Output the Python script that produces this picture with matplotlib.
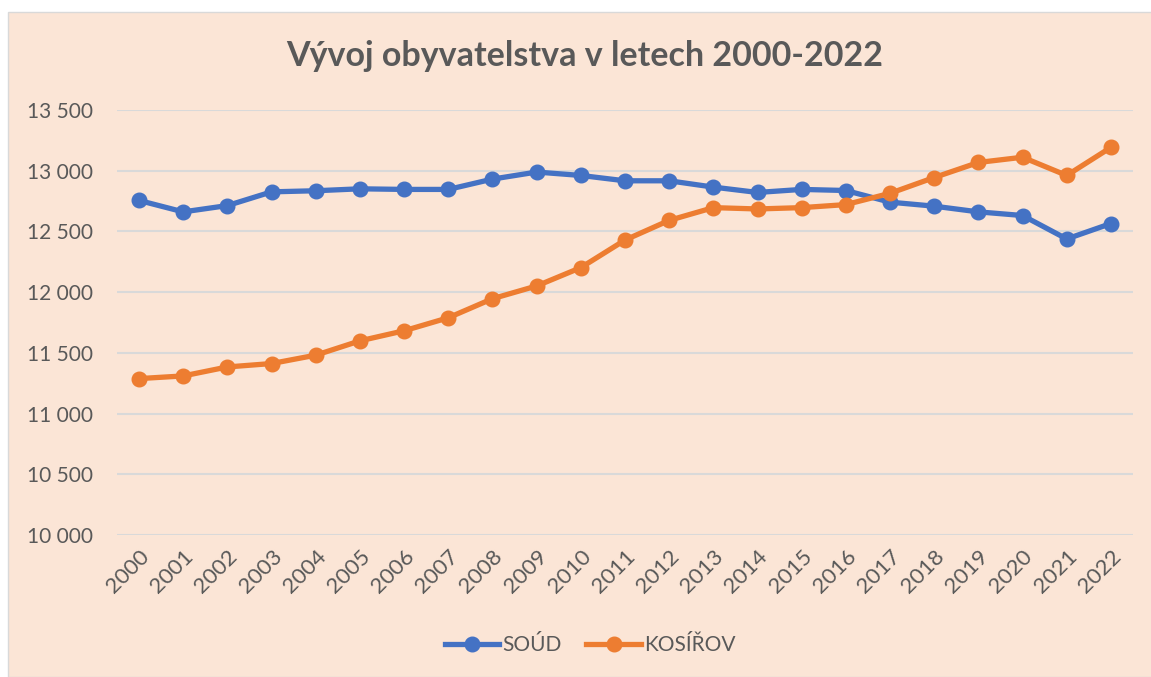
import matplotlib.pyplot as plt
from matplotlib.patches import Rectangle
from matplotlib.ticker import FuncFormatter

roky = [str(r) for r in range(2000, 2023)]
soud = [12755, 12661, 12713, 12826, 12835, 12851, 12846, 12846, 12931, 12989, 12961, 12917,
        12917, 12865, 12821, 12846, 12837, 12741, 12708, 12661, 12631, 12438, 12565]
kosirov = [11288, 11310, 11384, 11412, 11481, 11599, 11682, 11789, 11946, 12051, 12202, 12429,
           12591, 12696, 12685, 12696, 12721, 12814, 12944, 13068, 13111, 12961, 13192]

plt.rcParams['font.family'] = ['Lato', 'DejaVu Sans']
seda = '#595959'
pozadi = '#FBE5D6'

fig = plt.figure(figsize=(11.51, 6.77), dpi=100)
fig.patch.set_facecolor('white')
fig.patches.append(Rectangle((8 / 1151, 0), 1, 1 - 12 / 677, transform=fig.transFigure,
                             facecolor=pozadi, edgecolor='#D9D9D9', linewidth=1, zorder=-1))

ax = fig.add_axes([117 / 1151, 1 - 535 / 677, (1133 - 117) / 1151, (535 - 110) / 677])
ax.set_facecolor('none')
ax.set_zorder(2)

x = range(len(roky))
ax.plot(x, soud, color='#4472C4', linewidth=3.8, marker='o', markersize=10.5, label='SOÚD')
ax.plot(x, kosirov, color='#ED7D31', linewidth=3.8, marker='o', markersize=10.5, label='KOSÍŘOV')

ax.set_xlim(-0.5, len(roky) - 0.5)
ax.set_ylim(10000, 13500)
ax.set_yticks(range(10000, 13501, 500))
ax.yaxis.set_major_formatter(FuncFormatter(lambda v, p: f'{int(v):,}'.replace(',', ' ')))
ax.set_xticks(list(x))
ax.set_xticklabels(roky, rotation=45, ha='right', rotation_mode='anchor')
ax.grid(axis='y', color='#D9D9D9', linewidth=1.5)
ax.set_axisbelow(True)
for s in ax.spines.values():
    s.set_visible(False)
ax.tick_params(axis='x', length=0, labelsize=16, colors=seda, pad=8)
ax.tick_params(axis='y', length=0, labelsize=15, colors=seda, pad=17)

fig.text(585 / 1151, 1 - 56 / 677, 'Vývoj obyvatelstva v letech 2000-2022', ha='center', va='center',
         fontsize=24.5, fontweight='bold', color=seda)

fig.legend(loc='center', bbox_to_anchor=(590 / 1151, 1 - 645 / 677), ncol=2, frameon=False,
           fontsize=15, labelcolor=seda, handlelength=2.6, columnspacing=1.2, handletextpad=0.15)

plt.savefig('out.png', dpi=100, facecolor=fig.get_facecolor())
